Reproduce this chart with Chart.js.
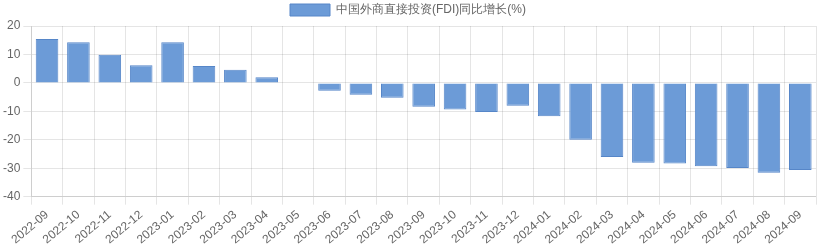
<!DOCTYPE html>
<html>
<head>
<meta charset="utf-8">
<script src="https://cdn.jsdelivr.net/npm/chart.js@4"></script>
<style>
  html, body { margin: 0; padding: 0; background: #fff; }
  .wrap { width: 820px; height: 250px; }
</style>
</head>
<body>
<div class="wrap"><canvas id="fdiChart"></canvas></div>
<script>
// months on the x axis
var months = ["2022-09", "2022-10", "2022-11", "2022-12", "2023-01", "2023-02", "2023-03", "2023-04",
  "2023-05", "2023-06", "2023-07", "2023-08", "2023-09", "2023-10", "2023-11", "2023-12",
  "2024-01", "2024-02", "2024-03", "2024-04", "2024-05", "2024-06", "2024-07", "2024-08", "2024-09"];

// FDI year-on-year growth, %
var fdiGrowth = [15.4, 14.3, 9.9, 6.2, 14.3, 5.9, 4.6, 2.0,
  0, -2.8, -4.2, -5.2, -8.4, -9.4, -10.2, -8.0,
  -11.7, -20.0, -26.1, -28.1, -28.3, -29.3, -29.9, -31.6, -30.6];

var seriesName = "中国外商直接投资(FDI)同比增长(%)";

Chart.defaults.font.family = "'Liberation Sans', Arial, sans-serif";
Chart.defaults.font.size = 12;
Chart.defaults.color = "#666";

var ctx = document.getElementById('fdiChart').getContext('2d');
var fdiChart = new Chart(ctx, {
  type: 'bar',
  data: {
    labels: months,
    datasets: [{
      label: seriesName,
      data: fdiGrowth,
      backgroundColor: "rgb(108, 155, 215)",
      borderColor: "rgb(86, 134, 200)",
      borderWidth: 1
    }]
  },
  options: {
    responsive: true,
    maintainAspectRatio: false,
    animation: false,
    layout: { padding: { left: 0, right: 4, top: 0, bottom: 0 } },
    plugins: {
      legend: {
        labels: { boxWidth: 40, boxHeight: 12, padding: 4 }
      },
      tooltip: { enabled: false }
    },
    scales: {
      x: {
        grid: { color: "rgba(0,0,0,0.1)" },
        ticks: { maxRotation: 40, minRotation: 40, autoSkip: false }
      },
      y: {
        min: -40,
        max: 20,
        ticks: { stepSize: 10 },
        grid: { color: "rgba(0,0,0,0.1)" }
      }
    }
  }
});
</script>
</body>
</html>
